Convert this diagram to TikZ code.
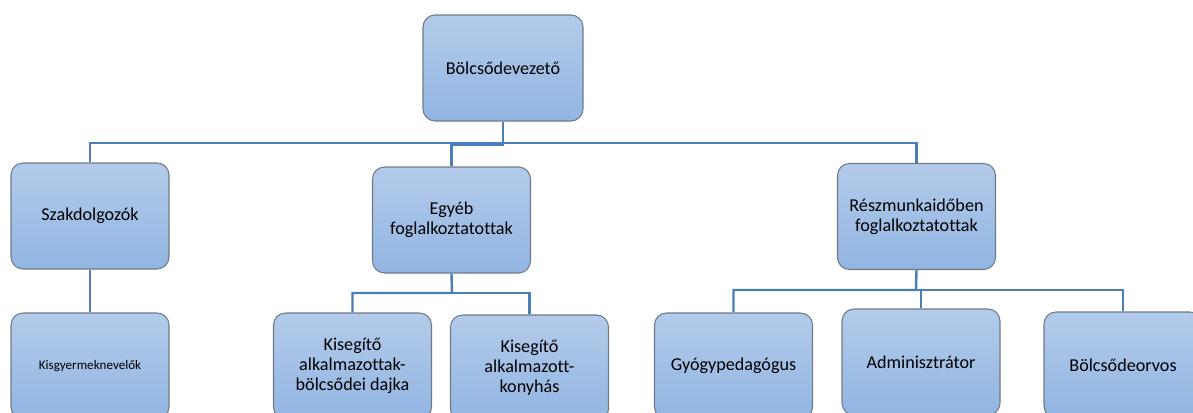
\documentclass[tikz,border=0pt]{standalone}
\usepackage{fontspec}
\setmainfont{Carlito}[Ligatures=NoCommon]
\usetikzlibrary{positioning}

\definecolor{boxtop}{HTML}{B3CBEA}
\definecolor{boxbot}{HTML}{91B5E2}
\definecolor{boxline}{HTML}{6F7A86}
\definecolor{linkblue}{HTML}{4A7EBB}

\begin{document}
\begin{tikzpicture}[x=0.75pt, y=-0.75pt,
    box/.style={draw=boxline, line width=0.8pt, rounded corners=9pt,
        top color=boxtop, bottom color=boxbot, align=center,
        minimum width=118.5pt, minimum height=79.5pt, inner sep=2pt,
        font=\fontsize{13.6}{15}\selectfont},
    link/.style={draw=linkblue, line width=1.8pt}]
    \useasboundingbox (0,0) rectangle (1193,412);
    \clip (0,0) rectangle (1193,412);

    % top
    \node[box, minimum width=120pt] (root) at (503,68) {Bölcsődevezető};

    % second row
    \node[box] (szak) at (90,216) {Szakdolgozók};
    \node[box] (egyeb) at (451.5,220) {Egyéb\\foglalkoztatottak};
    \node[box] (resz) at (916.5,216.5) {Részmunkaidőben\\foglalkoztatottak};

    % third row
    \node[box, font=\fontsize{9.8}{11}\selectfont] (kisgy) at (90,366) {Kisgyermeknevelők};
    \node[box] (kis1) at (352.5,366) {Kisegítő\\alkalmazottak-\\bölcsődei dajka};
    \node[box] (kis2) at (529.5,368) {Kisegítő\\alkalmazott-\\konyhás};
    \node[box] (gyogy) at (733.5,366) {Gyógypedagógus};
    \node[box] (admin) at (921,362) {Adminisztrátor};
    \node[box] (orvos) at (1123,365) {Bölcsődeorvos};

    % connectors
    \coordinate (bus1) at (503,143);
    \coordinate (bus2) at (452,293);
    \coordinate (bus3) at (916,290);

    \draw[link] (root.south) -- (bus1) -| (szak.north);
    \draw[link] (bus1) -| (resz.north);
    \draw[link] (root.south) |- ([yshift=-1.5pt]egyeb.north |- bus1) -- (egyeb.north);

    \draw[link] (szak.south) -- (kisgy.north);

    \draw[link] (egyeb.south) -- (bus2) -| (kis1.north);
    \draw[link] (bus2) -| (kis2.north);

    \draw[link] (resz.south) -- (bus3) -| (gyogy.north);
    \draw[link] (bus3) -| (admin.north);
    \draw[link] (bus3) -| (orvos.north);
\end{tikzpicture}
\end{document}
